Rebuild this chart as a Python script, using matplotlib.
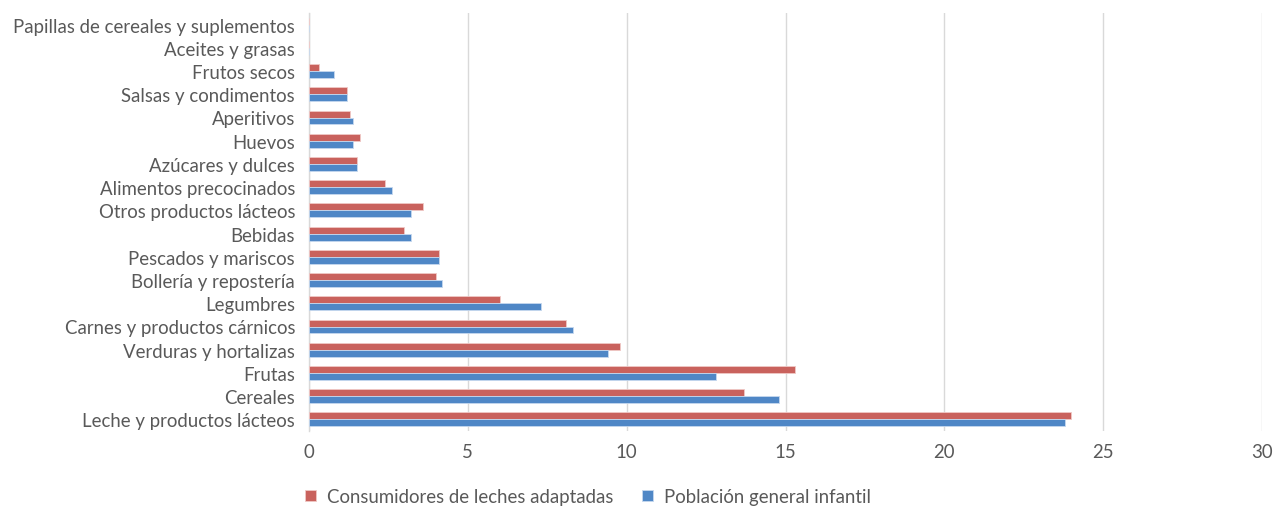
import matplotlib
matplotlib.use("Agg")
import matplotlib.pyplot as plt
import numpy as np

categories = [
    "Leche y productos lácteos", "Cereales", "Frutas", "Verduras y hortalizas",
    "Carnes y productos cárnicos", "Legumbres", "Bollería y repostería",
    "Pescados y mariscos", "Bebidas", "Otros productos lácteos",
    "Alimentos precocinados", "Azúcares y dulces", "Huevos", "Aperitivos",
    "Salsas y condimentos", "Frutos secos", "Aceites y grasas",
    "Papillas de cereales y suplementos",
]
consumidores = [24.0, 13.7, 15.3, 9.8, 8.1, 6.0, 4.0, 4.1, 3.0, 3.6,
                2.4, 1.5, 1.6, 1.3, 1.2, 0.3, 0.0, 0.0]
poblacion = [23.8, 14.8, 12.8, 9.4, 8.3, 7.3, 4.2, 4.1, 3.2, 3.2,
             2.6, 1.5, 1.4, 1.4, 1.2, 0.8, 0.0, 0.0]
series_names = ["Consumidores de leches adaptadas", "Población general infantil"]
xticks = [0, 5, 10, 15, 20, 25, 30]

plt.rcParams['font.family'] = ['Lato', 'DejaVu Sans']
text_color = "#595959"
red = "#c9625d"
blue = "#4f87c6"
fs = 13.4

fig = plt.figure(figsize=(12.75, 5.1), dpi=100)
ax = fig.add_axes([309/1275, 1-432/510, (1262-309)/1275, (432-14)/510])

y = np.arange(len(categories))
h = 0.3
ax.barh(y + h/2, consumidores, height=h, color=red, edgecolor="#f0c8c6", linewidth=0.6, label=series_names[0], zorder=3)
ax.barh(y - h/2, poblacion, height=h, color=blue, edgecolor="#c6d8ee", linewidth=0.6, label=series_names[1], zorder=3)

ax.set_xlim(0, 30)
ax.set_ylim(-0.5, len(categories) - 0.5)
ax.set_yticks(y)
ax.set_yticklabels(categories, fontsize=fs, color=text_color)
ax.set_xticks(xticks)
ax.set_xticklabels([str(t) for t in xticks], fontsize=fs, color=text_color)
ax.tick_params(axis='both', length=0)
ax.tick_params(axis='y', pad=10)
ax.tick_params(axis='x', pad=9)
ax.grid(axis='x', color="#d9d9d9", linewidth=1, zorder=0)
for s in ['top', 'right', 'bottom']:
    ax.spines[s].set_visible(False)
ax.spines['left'].set_color("#d9d9d9")
ax.spines['left'].set_linewidth(1)

leg = fig.legend(loc='lower center', bbox_to_anchor=(588/1275, -0.025), ncol=2, frameon=False,
                 fontsize=fs, handlelength=0.6, handleheight=0.6, columnspacing=1.5, handletextpad=0.6)
for t in leg.get_texts():
    t.set_color(text_color)

fig.savefig("out.png", dpi=100)
